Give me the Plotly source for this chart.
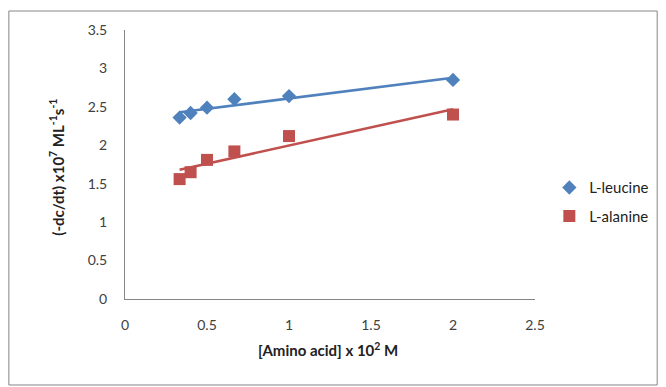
import numpy as np
import plotly.graph_objects as go

# Data
conc = [0.333, 0.4, 0.5, 0.667, 1.0, 2.0]          # [Amino acid] x 10^2 M
leucine = [2.36, 2.42, 2.49, 2.60, 2.64, 2.85]     # (-dc/dt) x 10^7
alanine = [1.56, 1.65, 1.81, 1.92, 2.12, 2.40]
x_ticks = [0, 0.5, 1, 1.5, 2, 2.5]
y_ticks = [0, 0.5, 1, 1.5, 2, 2.5, 3, 3.5]

BLUE = "#4F81BD"
RED = "#C0504D"
FONT = "Lato, Carlito, Calibri, sans-serif"

fig = go.Figure()

def trend(xs, ys):
    k, b = np.polyfit(xs, ys, 1)
    xl = np.array([min(xs), max(xs)])
    return xl, k * xl + b

for name, ys, color, sym, size in [
    ("L-leucine", leucine, BLUE, "diamond", 11),
    ("L-alanine", alanine, RED, "square", 12),
]:
    xl, yl = trend(conc, ys)
    fig.add_trace(go.Scatter(x=xl, y=yl, mode="lines", line=dict(color=color, width=2.6),
                             showlegend=False, hoverinfo="skip"))
    fig.add_trace(go.Scatter(x=conc, y=ys, mode="markers", name=name, legendgroup=name,
                             marker=dict(symbol=sym, size=size, color=color, line=dict(width=0))))

fig.update_layout(
    width=666, height=387,
    margin=dict(l=125, r=128, t=30, b=88),
    paper_bgcolor="white", plot_bgcolor="white",
    font=dict(family=FONT, size=14, color="#404040"),
    legend=dict(x=1.035, y=0.475, xanchor="left", yanchor="top", itemwidth=30,
                traceorder="grouped", tracegroupgap=6,
                font=dict(family=FONT, size=15, color="#222222"), bgcolor="rgba(0,0,0,0)"),
    xaxis=dict(range=[0, 2.5], tickvals=x_ticks, ticktext=[f"{v:g}" for v in x_ticks],
               showgrid=False, zeroline=False, showline=True, linecolor="#868686", linewidth=1,
               ticks="", ticklabelstandoff=13, fixedrange=True),
    yaxis=dict(range=[0, 3.5], tickvals=y_ticks, ticktext=[f"{v:g}" for v in y_ticks],
               showgrid=False, zeroline=False, showline=True, linecolor="#868686", linewidth=1,
               ticks="", ticklabelstandoff=14, fixedrange=True),
    shapes=[dict(type="rect", xref="paper", yref="paper",
                 x0=-0.2833, x1=1.298, y0=-0.3197, y1=1.0706,
                 line=dict(color="#868686", width=1), fillcolor="rgba(0,0,0,0)", layer="below")],
    annotations=[
        dict(text="<b>(-dc/dt) x10<sup>7</sup> ML<sup>-1</sup>s<sup>-1</sup></b>", textangle=-90,
             xref="paper", yref="paper", x=-0.195, y=0.49, showarrow=False,
             font=dict(family=FONT, size=15, color="#222222")),
        dict(text="<b>[Amino acid] x 10<sup>2</sup> M</b>",
             xref="paper", yref="paper", x=0.496, y=-0.232, showarrow=False,
             font=dict(family=FONT, size=15, color="#222222")),
    ],
)

fig.write_html("out.html")
